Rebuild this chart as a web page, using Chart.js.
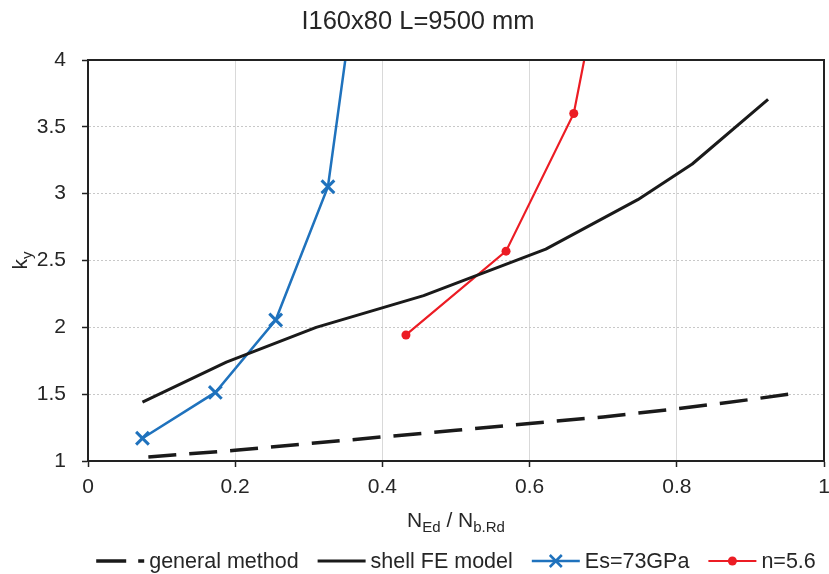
<!DOCTYPE html>
<html>
<head>
<meta charset="utf-8">
<script src="https://cdn.jsdelivr.net/npm/chart.js@4.4.0/dist/chart.umd.min.js"></script>
<style>
html, body { margin: 0; padding: 0; background: #fff; }
</style>
</head>
<body>
<canvas id="myChart" width="829" height="574"></canvas>
<script>
const chart_title = 'I160x80 L=9500 mm'
const x_ticks = [0, 0.2, 0.4, 0.6, 0.8, 1]
const y_ticks = [1, 1.5, 2, 2.5, 3, 3.5, 4]

// general method (dashed)
const general_x = [0.082, 0.2, 0.3, 0.4, 0.5, 0.6, 0.7, 0.8, 0.9, 0.953]
const general_y = [1.03, 1.08, 1.13, 1.18, 1.23, 1.28, 1.33, 1.39, 1.46, 1.5]

// shell FE model
const shell_x = [0.074, 0.188, 0.31, 0.456, 0.622, 0.747, 0.821, 0.924]
const shell_y = [1.44, 1.74, 2.0, 2.237, 2.585, 2.955, 3.222, 3.706]

// Es=73GPa
const es_x = [0.074, 0.173, 0.255, 0.326, 0.362]
const es_y = [1.17, 1.513, 2.055, 3.052, 4.5]

// n=5.6
const n_x = [0.432, 0.568, 0.660, 0.692]
const n_y = [1.943, 2.57, 3.6, 4.5]

const labels = ['general method', 'shell FE model', 'Es=73GPa', 'n=5.6']
const BLUE = '#1f72bd'
const RED = '#ec1c24'
const DARK = '#1a1a1a'
const TEXT = '#262626'
const FONT = '"Liberation Sans", Arial, sans-serif'

function to_points(xs, ys){
    let pts = []
    for (let i = 0; i < xs.length; i++) {
        pts.push({x: xs[i], y: ys[i]})
    }
    return pts
}

function fmt(v){
    return String(Math.round(v * 100) / 100)
}

function no_side_padding(s){
    s.paddingLeft = 0
    s.paddingRight = 0
    s.paddingTop = 0
    s.paddingBottom = 0
}

// title, axis titles with subscripts, frame and legend
const extras = {
    id: 'extras',
    afterDatasetsDraw(chart){
        const ctx = chart.ctx
        const a = chart.chartArea
        ctx.save()
        ctx.strokeStyle = '#222'
        ctx.lineWidth = 2
        ctx.beginPath()
        ctx.moveTo(a.left, a.top)
        ctx.lineTo(a.right, a.top)
        ctx.lineTo(a.right, a.bottom)
        ctx.stroke()
        ctx.restore()
    },
    afterDraw(chart){
        const ctx = chart.ctx
        const a = chart.chartArea
        const mid = (a.left + a.right) / 2
        ctx.save()
        ctx.fillStyle = TEXT
        ctx.textBaseline = 'alphabetic'

        // title
        ctx.font = '25.5px ' + FONT
        ctx.textAlign = 'center'
        ctx.fillText(chart_title, 418, 29)

        // x axis title  N_Ed / N_b.Rd
        ctx.textAlign = 'left'
        const parts = [['N', 0], ['Ed', 1], [' / N', 0], ['b.Rd', 1]]
        let total = 0
        for (const p of parts) {
            ctx.font = (p[1] ? '15px ' : '21px ') + FONT
            total += ctx.measureText(p[0]).width
        }
        let x = mid - total / 2
        for (const p of parts) {
            ctx.font = (p[1] ? '15px ' : '21px ') + FONT
            ctx.fillText(p[0], x, 527 + (p[1] ? 5 : 0))
            x += ctx.measureText(p[0]).width
        }

        // y axis title  k_y
        ctx.translate(27, (a.top + a.bottom) / 2)
        ctx.rotate(-Math.PI / 2)
        ctx.font = '21px ' + FONT
        const kw = ctx.measureText('k').width
        ctx.font = '15px ' + FONT
        const yw = ctx.measureText('y').width
        let sx = -(kw + yw) / 2
        ctx.font = '21px ' + FONT
        ctx.fillText('k', sx, 0)
        ctx.font = '15px ' + FONT
        ctx.fillText('y', sx + kw, 5)
        ctx.restore()

        // legend
        ctx.save()
        ctx.font = '21.5px ' + FONT
        const sample = 48
        const gap = 5
        const space = 19
        let widths = labels.map(t => sample + gap + ctx.measureText(t).width)
        let lw = widths.reduce((s, w) => s + w, 0) + space * (labels.length - 1)
        let lx = mid - lw / 2
        const ly = 561
        chart.data.datasets.forEach((ds, i) => {
            ctx.save()
            ctx.strokeStyle = ds.borderColor
            ctx.lineWidth = ds.borderWidth
            ctx.setLineDash(i == 0 ? [30, 12] : [])
            ctx.beginPath()
            ctx.moveTo(lx, ly)
            ctx.lineTo(lx + sample, ly)
            ctx.stroke()
            ctx.setLineDash([])
            const cx = lx + sample / 2
            if (i == 2) {
                ctx.lineWidth = 2.5
                ctx.beginPath()
                ctx.moveTo(cx - 6, ly - 6)
                ctx.lineTo(cx + 6, ly + 6)
                ctx.moveTo(cx - 6, ly + 6)
                ctx.lineTo(cx + 6, ly - 6)
                ctx.stroke()
            }
            if (i == 3) {
                ctx.fillStyle = ds.borderColor
                ctx.beginPath()
                ctx.arc(cx, ly, 4.5, 0, Math.PI * 2)
                ctx.fill()
            }
            ctx.restore()
            ctx.fillStyle = TEXT
            ctx.textAlign = 'left'
            ctx.textBaseline = 'middle'
            ctx.fillText(labels[i], lx + sample + gap, ly + 1)
            lx += widths[i] + space
        })
        ctx.restore()
    }
}

const ctx = document.getElementById('myChart').getContext('2d')
const myChart = new Chart(ctx, {
    type: 'scatter',
    data: {
        datasets: [{
            label: labels[0],
            data: to_points(general_x, general_y),
            showLine: true,
            borderColor: DARK,
            borderWidth: 3.5,
            borderDash: [28, 13],
            pointRadius: 0,
            tension: 0
        }, {
            label: labels[1],
            data: to_points(shell_x, shell_y),
            showLine: true,
            borderColor: DARK,
            borderWidth: 3,
            borderJoinStyle: 'round',
            pointRadius: 0,
            tension: 0
        }, {
            label: labels[2],
            data: to_points(es_x, es_y),
            showLine: true,
            borderColor: BLUE,
            backgroundColor: BLUE,
            borderWidth: 2.5,
            pointStyle: 'crossRot',
            pointRadius: 9,
            pointBorderWidth: 3,
            tension: 0
        }, {
            label: labels[3],
            data: to_points(n_x, n_y),
            showLine: true,
            borderColor: RED,
            backgroundColor: RED,
            borderWidth: 2.2,
            pointStyle: 'circle',
            pointRadius: 4.5,
            pointBorderWidth: 0,
            tension: 0
        }]
    },
    options: {
        responsive: false,
        animation: false,
        layout: {autoPadding: false, padding: {top: 60, right: 5, bottom: 0, left: 0}},
        plugins: {
            legend: {display: false},
            title: {display: false},
            tooltip: {enabled: false}
        },
        scales: {
            x: {
                type: 'linear',
                min: 0,
                max: 1,
                afterBuildTicks: s => { s.ticks = x_ticks.map(v => ({value: v})) },
                afterFit: s => { s.height = 113; no_side_padding(s) },
                grid: {color: '#d9d9d9', lineWidth: 1, tickColor: '#222', tickLength: 6, tickWidth: 1.5},
                border: {color: '#222', width: 2},
                ticks: {
                    color: TEXT,
                    padding: 8,
                    maxRotation: 0,
                    font: {family: FONT, size: 21},
                    callback: v => fmt(v)
                }
            },
            y: {
                type: 'linear',
                min: 1,
                max: 4,
                afterBuildTicks: s => { s.ticks = y_ticks.map(v => ({value: v})) },
                afterFit: s => { s.width = 88; no_side_padding(s) },
                grid: {color: '#c8c8c8', lineWidth: 1, tickColor: '#222', tickLength: 6, tickWidth: 1.5, tickBorderDash: []},
                border: {color: '#222', width: 2, dash: [2, 2]},
                ticks: {
                    color: TEXT,
                    padding: 16,
                    font: {family: FONT, size: 21},
                    callback: v => fmt(v)
                }
            }
        }
    },
    plugins: [extras]
})
</script>
</body>
</html>
